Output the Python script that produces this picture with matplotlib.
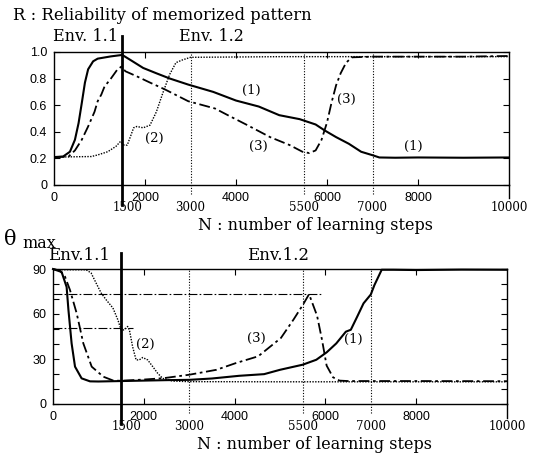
import matplotlib
matplotlib.use("Agg")
import matplotlib.pyplot as plt

# R : reliability of memorized pattern (upper panel)
n_r1 = [0, 200, 350, 460, 540, 610, 680, 750, 860, 960, 1250, 1500, 1680, 1960, 2250, 2550, 2950,
        3500, 4000, 4500, 4950, 5400, 5750, 5950, 6200, 6480, 6750, 7000, 7150, 7500, 8000, 9000, 10000]
r1 = [0.21, 0.214, 0.25, 0.34, 0.465, 0.615, 0.77, 0.87, 0.93, 0.95, 0.967, 0.978, 0.94, 0.88, 0.84,
      0.80, 0.755, 0.70, 0.635, 0.59, 0.525, 0.495, 0.455, 0.41, 0.36, 0.31, 0.25, 0.224, 0.207,
      0.205, 0.207, 0.205, 0.207]
n_r2 = [0, 820, 960, 1180, 1360, 1460, 1540, 1610, 1680, 1750, 1820, 1960, 2110, 2250, 2390, 2540,
        2680, 2820, 3000, 5000, 8000, 10000]
r2 = [0.21, 0.214, 0.226, 0.25, 0.29, 0.327, 0.30, 0.30, 0.364, 0.43, 0.44, 0.43, 0.45, 0.55, 0.69,
      0.83, 0.92, 0.94, 0.96, 0.965, 0.965, 0.965]
n_r3 = [0, 320, 460, 610, 750, 890, 960, 1040, 1110, 1250, 1390, 1480, 1570, 1820, 2110, 2430, 2950,
        3540, 3820, 4250, 4750, 5180, 5460, 5610, 5750, 5880, 6000, 6100, 6200, 6300, 6420, 6550,
        7000, 8000, 9000, 10000]
r3 = [0.21, 0.214, 0.26, 0.34, 0.44, 0.55, 0.63, 0.68, 0.74, 0.80, 0.867, 0.89, 0.855, 0.817, 0.77,
      0.72, 0.63, 0.575, 0.525, 0.45, 0.36, 0.30, 0.25, 0.24, 0.26, 0.34, 0.47, 0.62, 0.75, 0.84,
      0.92, 0.96, 0.965, 0.965, 0.965, 0.97]

# theta max (lower panel)
n_t1 = [0, 190, 300, 340, 410, 485, 630, 815, 1000, 1500, 2000, 2500, 3000, 3500, 4100, 4650, 5000,
        5500, 5800, 6030, 6240, 6450, 6560, 6700, 6840, 7000, 7080, 7240, 7500, 8000, 9000, 10000]
t1 = [90, 88, 78, 62.7, 40.4, 24.9, 17.1, 15.1, 15, 15.3, 15.6, 15.9, 16.1, 17, 18.8, 19.9, 22.8,
      26.2, 29.5, 34.5, 40.4, 48.2, 49.5, 58.2, 67.1, 73, 79.3, 89.5, 89.5, 89.3, 89.6, 89.5]
n_t2 = [0, 730, 840, 950, 1060, 1170, 1320, 1430, 1500, 1570, 1645, 1685, 1755, 1830, 1900, 1975,
        2085, 2195, 2305, 2415, 2635, 3000, 5000, 10000]
t2 = [89.5, 89.5, 87.3, 80.6, 74, 69.5, 64, 56, 49.4, 49.4, 51.7, 49, 38, 29.4, 29.4, 31, 29.4, 25,
      20.5, 17.1, 15.3, 14.9, 14.8, 14.8]
n_t3 = [0, 150, 264, 374, 522, 668, 852, 1108, 1329, 1500, 2000, 2430, 3000, 3600, 4030, 4520, 5020,
        5300, 5510, 5640, 5816, 5922, 6027, 6168, 6309, 6500, 8000, 10000]
t3 = [90, 89, 84.9, 76, 60.4, 40.4, 24.9, 18.2, 15.6, 15.5, 16.3, 17.2, 19.5, 22.8, 27.3, 31.8, 44,
      56.4, 66.4, 73.2, 58.9, 43.3, 25.6, 17.8, 15.6, 15.3, 15.3, 15.2]

# peak markers of theta max: (level, end of line)
peak_lines = [(73.3, 5900), (50.6, 1760)]

row1_ticks = [0, 2000, 4000, 6000, 8000]
row2_ticks = [1500, 3000, 5500, 7000, 10000]
switch_n = 1500
dotted_n = [3000, 5500, 7000]

SERIF = "DejaVu Serif"
SANS = "Liberation Sans"

DASHDOT = (0, (6, 2, 1.5, 2))
DOTTED = (0, (1, 1))

fig = plt.figure(figsize=(5.34, 4.62), dpi=100)
ax1 = fig.add_axes([54 / 534, 1 - 185 / 462, 455 / 534, 133 / 462])
ax2 = fig.add_axes([53 / 534, 1 - 404 / 462, 454 / 534, 135 / 462])


def frame(ax, ymax, yticks, ylabels, minor):
    ax.set_xlim(0, 10000)
    ax.set_ylim(0, ymax)
    ax.set_xticks([2000, 4000, 6000, 8000])
    ax.set_xticklabels([])
    ax.set_yticks(yticks)
    ax.set_yticklabels(ylabels, fontfamily=SANS, fontsize=9)
    if minor is not None:
        ax.set_yticks(minor, minor=True)
    ax.tick_params(which="both", direction="in", length=4, width=0.8, top=True, right=True, pad=5)
    for s in ax.spines.values():
        s.set_linewidth(1.0)
    tr = ax.get_xaxis_transform()
    # vertical markers
    ax.plot([switch_n, switch_n], [-0.15, 1.12], color="black", lw=2.0, transform=tr, clip_on=False)
    for n in dotted_n:
        ax.plot([n, n], [-0.07, 1.0], color="black", lw=0.8, ls=(0, (1, 1.5)),
                transform=tr, clip_on=False)
    ax.plot([10000, 10000], [-0.1, 0], color="black", lw=1.0, transform=tr, clip_on=False)
    for n in row1_ticks:
        ax.text(n, -0.05, str(n), transform=tr, ha="center", va="top", fontfamily=SANS, fontsize=9)
    for n in row2_ticks:
        x = n + 120 if n == switch_n else n
        ax.text(x, -0.12, str(n), transform=tr, ha="center", va="top", fontfamily=SERIF, fontsize=8.5)
    ax.text(0.575, -0.24, "N : number of learning steps", transform=ax.transAxes, ha="center",
            va="top", fontfamily=SERIF, fontsize=11.5)


# upper panel
frame(ax1, 1.0, [0, 0.2, 0.4, 0.6, 0.8, 1.0], ["0", "0.2", "0.4", "0.6", "0.8", "1.0"], None)
ax1.plot(n_r1, r1, color="black", lw=1.5)
ax1.plot(n_r3, r3, color="black", lw=1.3, ls=DASHDOT)
ax1.plot(n_r2, r2, color="black", lw=1.0, ls=DOTTED)
for txt, n, v in [("(1)", 4340, 0.71), ("(3)", 6430, 0.64), ("(2)", 2215, 0.35),
                  ("(3)", 4490, 0.29), ("(1)", 7900, 0.29)]:
    ax1.text(n, v, txt, ha="center", va="center", fontfamily=SERIF, fontsize=9.5)
ax1.text(1400, 1.12, "Env. 1.1", transform=ax1.get_xaxis_transform(), ha="right", va="center",
         fontfamily=SERIF, fontsize=11.5)
ax1.text(3450, 1.12, "Env. 1.2", transform=ax1.get_xaxis_transform(), ha="center", va="center",
         fontfamily=SERIF, fontsize=11.5)
fig.text(13 / 534, 1 - 16 / 462, "R : Reliability of memorized pattern", ha="left", va="center",
         fontfamily=SERIF, fontsize=11.8)

# lower panel
frame(ax2, 90, [0, 30, 60, 90], ["0", "30", "60", "90"], list(range(10, 90, 10)))
for lvl, end in peak_lines:
    ax2.plot([0, end], [lvl, lvl], color="black", lw=0.8, ls=(0, (8, 2, 1.5, 2)))
ax2.plot(n_t1, t1, color="black", lw=1.5, clip_on=False)
ax2.plot(n_t3, t3, color="black", lw=1.3, ls=DASHDOT, clip_on=False)
ax2.plot(n_t2, t2, color="black", lw=1.0, ls=DOTTED, clip_on=False)
for txt, n, v in [("(2)", 2030, 40), ("(3)", 4490, 44), ("(1)", 6620, 43)]:
    ax2.text(n, v, txt, ha="center", va="center", fontfamily=SERIF, fontsize=9.5)
ax2.text(1260, 1.1, "Env.1.1", transform=ax2.get_xaxis_transform(), ha="right", va="center",
         fontfamily=SERIF, fontsize=12)
ax2.text(4960, 1.1, "Env.1.2", transform=ax2.get_xaxis_transform(), ha="center", va="center",
         fontfamily=SERIF, fontsize=12)
fig.text(4 / 534, 1 - 240 / 462, "\u03b8", ha="left", va="center", fontfamily=SERIF, fontsize=15)
fig.text(22 / 534, 1 - 243 / 462, "max", ha="left", va="center", fontfamily=SERIF, fontsize=11.5)

fig.savefig("out.png", dpi=100)
